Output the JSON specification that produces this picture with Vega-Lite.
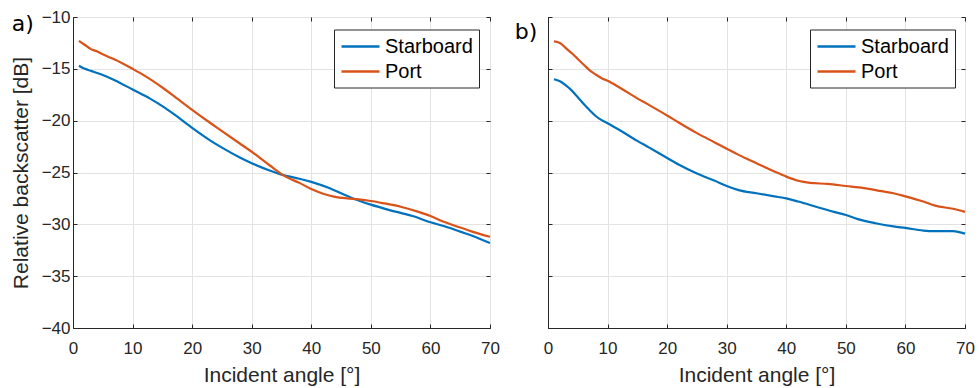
{
  "$schema": "https://vega.github.io/schema/vega-lite/v6.json",
  "padding": {"left": 9, "top": 7, "right": 5, "bottom": 2},
  "background": "white",
  "datasets": {
    "curves": [
      {"panel": "a", "side": "Starboard", "angle": 1, "value": -14.7},
      {"panel": "a", "side": "Starboard", "angle": 2, "value": -15.0},
      {"panel": "a", "side": "Starboard", "angle": 3, "value": -15.2},
      {"panel": "a", "side": "Starboard", "angle": 5, "value": -15.6},
      {"panel": "a", "side": "Starboard", "angle": 7, "value": -16.1},
      {"panel": "a", "side": "Starboard", "angle": 10, "value": -17.0},
      {"panel": "a", "side": "Starboard", "angle": 13, "value": -17.9},
      {"panel": "a", "side": "Starboard", "angle": 15, "value": -18.6},
      {"panel": "a", "side": "Starboard", "angle": 17, "value": -19.4},
      {"panel": "a", "side": "Starboard", "angle": 20, "value": -20.7},
      {"panel": "a", "side": "Starboard", "angle": 23, "value": -21.9},
      {"panel": "a", "side": "Starboard", "angle": 25, "value": -22.6},
      {"panel": "a", "side": "Starboard", "angle": 28, "value": -23.55},
      {"panel": "a", "side": "Starboard", "angle": 30, "value": -24.1},
      {"panel": "a", "side": "Starboard", "angle": 33, "value": -24.8},
      {"panel": "a", "side": "Starboard", "angle": 35, "value": -25.2},
      {"panel": "a", "side": "Starboard", "angle": 38, "value": -25.6},
      {"panel": "a", "side": "Starboard", "angle": 40, "value": -25.9},
      {"panel": "a", "side": "Starboard", "angle": 43, "value": -26.5},
      {"panel": "a", "side": "Starboard", "angle": 45, "value": -27.0},
      {"panel": "a", "side": "Starboard", "angle": 47, "value": -27.5},
      {"panel": "a", "side": "Starboard", "angle": 50, "value": -28.1},
      {"panel": "a", "side": "Starboard", "angle": 53, "value": -28.6},
      {"panel": "a", "side": "Starboard", "angle": 55, "value": -28.9},
      {"panel": "a", "side": "Starboard", "angle": 57, "value": -29.2},
      {"panel": "a", "side": "Starboard", "angle": 60, "value": -29.8},
      {"panel": "a", "side": "Starboard", "angle": 63, "value": -30.3},
      {"panel": "a", "side": "Starboard", "angle": 65, "value": -30.7},
      {"panel": "a", "side": "Starboard", "angle": 67, "value": -31.1},
      {"panel": "a", "side": "Starboard", "angle": 70, "value": -31.8},
      {"panel": "a", "side": "Port", "angle": 1, "value": -12.3},
      {"panel": "a", "side": "Port", "angle": 2, "value": -12.7},
      {"panel": "a", "side": "Port", "angle": 3, "value": -13.1},
      {"panel": "a", "side": "Port", "angle": 4, "value": -13.3},
      {"panel": "a", "side": "Port", "angle": 5, "value": -13.6},
      {"panel": "a", "side": "Port", "angle": 7, "value": -14.1},
      {"panel": "a", "side": "Port", "angle": 10, "value": -15.0},
      {"panel": "a", "side": "Port", "angle": 12, "value": -15.65},
      {"panel": "a", "side": "Port", "angle": 15, "value": -16.8},
      {"panel": "a", "side": "Port", "angle": 17, "value": -17.65},
      {"panel": "a", "side": "Port", "angle": 20, "value": -18.95},
      {"panel": "a", "side": "Port", "angle": 23, "value": -20.2},
      {"panel": "a", "side": "Port", "angle": 25, "value": -21.0},
      {"panel": "a", "side": "Port", "angle": 28, "value": -22.2},
      {"panel": "a", "side": "Port", "angle": 30, "value": -23.0},
      {"panel": "a", "side": "Port", "angle": 33, "value": -24.3},
      {"panel": "a", "side": "Port", "angle": 35.7, "value": -25.4},
      {"panel": "a", "side": "Port", "angle": 38, "value": -26.0},
      {"panel": "a", "side": "Port", "angle": 40, "value": -26.6},
      {"panel": "a", "side": "Port", "angle": 42, "value": -27.05},
      {"panel": "a", "side": "Port", "angle": 44, "value": -27.35},
      {"panel": "a", "side": "Port", "angle": 46, "value": -27.5},
      {"panel": "a", "side": "Port", "angle": 48, "value": -27.6},
      {"panel": "a", "side": "Port", "angle": 50, "value": -27.75},
      {"panel": "a", "side": "Port", "angle": 52, "value": -27.95},
      {"panel": "a", "side": "Port", "angle": 55, "value": -28.3},
      {"panel": "a", "side": "Port", "angle": 58, "value": -28.8},
      {"panel": "a", "side": "Port", "angle": 60, "value": -29.2},
      {"panel": "a", "side": "Port", "angle": 62, "value": -29.7},
      {"panel": "a", "side": "Port", "angle": 65, "value": -30.3},
      {"panel": "a", "side": "Port", "angle": 67, "value": -30.7},
      {"panel": "a", "side": "Port", "angle": 70, "value": -31.2},
      {"panel": "b", "side": "Starboard", "angle": 1, "value": -16.0},
      {"panel": "b", "side": "Starboard", "angle": 2, "value": -16.2},
      {"panel": "b", "side": "Starboard", "angle": 3, "value": -16.6},
      {"panel": "b", "side": "Starboard", "angle": 4, "value": -17.1},
      {"panel": "b", "side": "Starboard", "angle": 5, "value": -17.75},
      {"panel": "b", "side": "Starboard", "angle": 6, "value": -18.4},
      {"panel": "b", "side": "Starboard", "angle": 7, "value": -19.0},
      {"panel": "b", "side": "Starboard", "angle": 8, "value": -19.55},
      {"panel": "b", "side": "Starboard", "angle": 9, "value": -19.95},
      {"panel": "b", "side": "Starboard", "angle": 10, "value": -20.25},
      {"panel": "b", "side": "Starboard", "angle": 12, "value": -20.9},
      {"panel": "b", "side": "Starboard", "angle": 15, "value": -21.95},
      {"panel": "b", "side": "Starboard", "angle": 17, "value": -22.6},
      {"panel": "b", "side": "Starboard", "angle": 20, "value": -23.6},
      {"panel": "b", "side": "Starboard", "angle": 22, "value": -24.25},
      {"panel": "b", "side": "Starboard", "angle": 25, "value": -25.1},
      {"panel": "b", "side": "Starboard", "angle": 28, "value": -25.8},
      {"panel": "b", "side": "Starboard", "angle": 30, "value": -26.3},
      {"panel": "b", "side": "Starboard", "angle": 32, "value": -26.7},
      {"panel": "b", "side": "Starboard", "angle": 35, "value": -27.0},
      {"panel": "b", "side": "Starboard", "angle": 38, "value": -27.3},
      {"panel": "b", "side": "Starboard", "angle": 40, "value": -27.5},
      {"panel": "b", "side": "Starboard", "angle": 42, "value": -27.8},
      {"panel": "b", "side": "Starboard", "angle": 45, "value": -28.3},
      {"panel": "b", "side": "Starboard", "angle": 48, "value": -28.8},
      {"panel": "b", "side": "Starboard", "angle": 50, "value": -29.1},
      {"panel": "b", "side": "Starboard", "angle": 52, "value": -29.5},
      {"panel": "b", "side": "Starboard", "angle": 55, "value": -29.9},
      {"panel": "b", "side": "Starboard", "angle": 58, "value": -30.2},
      {"panel": "b", "side": "Starboard", "angle": 60, "value": -30.35},
      {"panel": "b", "side": "Starboard", "angle": 63, "value": -30.6},
      {"panel": "b", "side": "Starboard", "angle": 65, "value": -30.65},
      {"panel": "b", "side": "Starboard", "angle": 68, "value": -30.65},
      {"panel": "b", "side": "Starboard", "angle": 70, "value": -30.9},
      {"panel": "b", "side": "Port", "angle": 1, "value": -12.35},
      {"panel": "b", "side": "Port", "angle": 2, "value": -12.5},
      {"panel": "b", "side": "Port", "angle": 3, "value": -13.0},
      {"panel": "b", "side": "Port", "angle": 4, "value": -13.5},
      {"panel": "b", "side": "Port", "angle": 5, "value": -14.05},
      {"panel": "b", "side": "Port", "angle": 6, "value": -14.6},
      {"panel": "b", "side": "Port", "angle": 7, "value": -15.15},
      {"panel": "b", "side": "Port", "angle": 8, "value": -15.55},
      {"panel": "b", "side": "Port", "angle": 9, "value": -15.9},
      {"panel": "b", "side": "Port", "angle": 10, "value": -16.15},
      {"panel": "b", "side": "Port", "angle": 12, "value": -16.8},
      {"panel": "b", "side": "Port", "angle": 15, "value": -17.85},
      {"panel": "b", "side": "Port", "angle": 17, "value": -18.5},
      {"panel": "b", "side": "Port", "angle": 20, "value": -19.5},
      {"panel": "b", "side": "Port", "angle": 22, "value": -20.2},
      {"panel": "b", "side": "Port", "angle": 25, "value": -21.2},
      {"panel": "b", "side": "Port", "angle": 28, "value": -22.1},
      {"panel": "b", "side": "Port", "angle": 30, "value": -22.7},
      {"panel": "b", "side": "Port", "angle": 32, "value": -23.3},
      {"panel": "b", "side": "Port", "angle": 35, "value": -24.1},
      {"panel": "b", "side": "Port", "angle": 38, "value": -24.9},
      {"panel": "b", "side": "Port", "angle": 40, "value": -25.4},
      {"panel": "b", "side": "Port", "angle": 42, "value": -25.8},
      {"panel": "b", "side": "Port", "angle": 44, "value": -26.0},
      {"panel": "b", "side": "Port", "angle": 47, "value": -26.1},
      {"panel": "b", "side": "Port", "angle": 50, "value": -26.3},
      {"panel": "b", "side": "Port", "angle": 53, "value": -26.5},
      {"panel": "b", "side": "Port", "angle": 56, "value": -26.8},
      {"panel": "b", "side": "Port", "angle": 58, "value": -27.0},
      {"panel": "b", "side": "Port", "angle": 60, "value": -27.3},
      {"panel": "b", "side": "Port", "angle": 63, "value": -27.8},
      {"panel": "b", "side": "Port", "angle": 65, "value": -28.2},
      {"panel": "b", "side": "Port", "angle": 68, "value": -28.5},
      {"panel": "b", "side": "Port", "angle": 70, "value": -28.8}
    ]
  },
  "config": {
    "view": {"stroke": "#262626", "strokeWidth": 1},
    "axis": {
      "domainColor": "#262626",
      "tickColor": "#262626",
      "tickSize": -4,
      "gridColor": "#e3e3e3",
      "labelFont": "Liberation Sans",
      "labelFontSize": 17,
      "labelColor": "#262626",
      "titleFont": "Liberation Sans",
      "titleFontSize": 21,
      "titleFontWeight": "normal",
      "titleColor": "#262626"
    },
    "legend": {
      "labelFont": "Liberation Sans",
      "labelFontSize": 20,
      "labelColor": "black",
      "strokeColor": "#262626",
      "fillColor": "white",
      "padding": 6,
      "cornerRadius": 0,
      "symbolType": "M-1,0H3",
      "symbolSize": 361,
      "symbolStrokeWidth": 2.5,
      "labelOffset": 23,
      "rowPadding": 4
    },
    "title": {
      "font": "DejaVu Sans",
      "fontSize": 22,
      "fontWeight": "normal",
      "color": "black",
      "anchor": "start",
      "frame": "group",
      "baseline": "alphabetic"
    }
  },
  "resolve": {"legend": {"color": "independent"}},
  "spacing": 14,
  "hconcat": [
    {
      "width": 417,
      "height": 311,
      "title": {"text": "a)", "dx": -61.3, "offset": -27.5},
      "resolve": {"axis": {"x": "independent", "y": "independent"}},
      "layer": [
        {
          "data": {"name": "curves"},
          "transform": [{"filter": "datum.panel === 'a'"}],
          "mark": {"type": "line", "strokeWidth": 2.2, "interpolate": "monotone"},
          "encoding": {
            "x": {"field": "angle", "type": "quantitative",
              "scale": {"domain": [0, 70], "nice": false},
              "axis": {"values": [0, 10, 20, 30, 40, 50, 60, 70], "labelFlush": false, "labelPadding": 16, "titlePadding": 8, "title": "Incident angle [°]"}},
            "y": {"field": "value", "type": "quantitative",
              "scale": {"domain": [-40, -10], "nice": false},
              "axis": {"values": [-40, -35, -30, -25, -20, -15, -10], "labelPadding": 7, "titlePadding": 10, "title": "Relative backscatter [dB]", "labelExpr": "replace(datum.label, '-', '−')"}},
            "color": {"field": "side", "type": "nominal",
              "scale": {"domain": ["Starboard", "Port"], "range": ["#0072BD", "#D95319"]},
              "legend": {"title": null, "orient": "none", "legendX": 261, "legendY": 12.5}}
          }
        },
        {
          "mark": {"type": "text", "font": "DejaVu Sans", "fontSize": 20, "color": "black", "baseline": "middle", "align": "center"},
          "encoding": {
            "x": {"datum": 35.1, "type": "quantitative",
              "axis": {"orient": "top", "values": [0, 10, 20, 30, 40, 50, 60, 70], "labels": false, "grid": false, "domain": false, "title": null}},
            "y": {"datum": -12.85, "type": "quantitative",
              "axis": {"orient": "right", "values": [-40, -35, -30, -25, -20, -15, -10], "labels": false, "grid": false, "domain": false, "title": null}},
            "text": {"value": "03/19"}}
        }
      ]
    },
    {
      "width": 417,
      "height": 311,
      "title": {"text": "b)", "dx": -33.3, "offset": -27.5},
      "resolve": {"axis": {"x": "independent", "y": "independent"}},
      "layer": [
        {
          "data": {"name": "curves"},
          "transform": [{"filter": "datum.panel === 'b'"}],
          "mark": {"type": "line", "strokeWidth": 2.2, "interpolate": "monotone"},
          "encoding": {
            "x": {"field": "angle", "type": "quantitative",
              "scale": {"domain": [0, 70], "nice": false},
              "axis": {"values": [0, 10, 20, 30, 40, 50, 60, 70], "labelFlush": false, "labelPadding": 16, "titlePadding": 8, "title": "Incident angle [°]"}},
            "y": {"field": "value", "type": "quantitative",
              "scale": {"domain": [-40, -10], "nice": false},
              "axis": {"values": [-40, -35, -30, -25, -20, -15, -10], "labels": false, "title": null}},
            "color": {"field": "side", "type": "nominal",
              "scale": {"domain": ["Starboard", "Port"], "range": ["#0072BD", "#D95319"]},
              "legend": {"title": null, "orient": "none", "legendX": 262, "legendY": 12.5}}
          }
        },
        {
          "mark": {"type": "text", "font": "DejaVu Sans", "fontSize": 20, "color": "black", "baseline": "middle", "align": "center"},
          "encoding": {
            "x": {"datum": 34.7, "type": "quantitative",
              "axis": {"orient": "top", "values": [0, 10, 20, 30, 40, 50, 60, 70], "labels": false, "grid": false, "domain": false, "title": null}},
            "y": {"datum": -12.85, "type": "quantitative",
              "axis": {"orient": "right", "values": [-40, -35, -30, -25, -20, -15, -10], "labels": false, "grid": false, "domain": false, "title": null}},
            "text": {"value": "05/19"}}
        }
      ]
    }
  ]
}
